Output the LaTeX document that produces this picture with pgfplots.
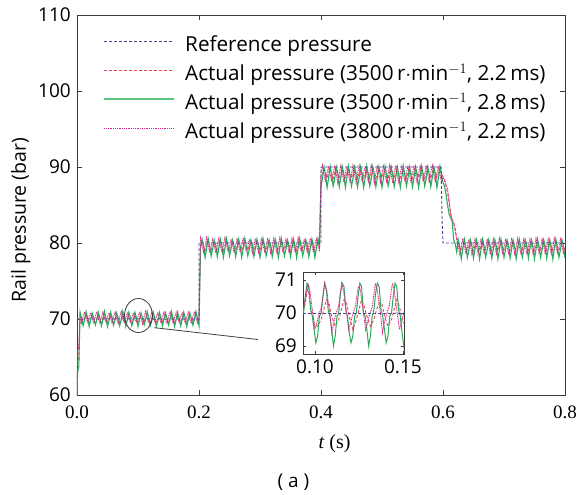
\documentclass[border=0pt]{standalone}
\usepackage{fontspec}
\setmainfont{Open Sans}
\newfontfamily\lserif{Liberation Serif}
\usepackage{pgfplots}
\pgfplotsset{compat=1.18}
\usepackage{pgfplotstable}

\definecolor{refc}{RGB}{70,70,150}
\definecolor{redc}{RGB}{235,70,85}
\definecolor{grnc}{RGB}{40,172,92}
\definecolor{grnl}{RGB}{90,195,130}
\definecolor{pnkc}{RGB}{225,30,135}
\definecolor{axc}{RGB}{60,60,60}

\pgfplotstableread{
t g p r
0.0000 60.0 60.0 60.0
0.0010 63.0 65.8 64.0
0.0030 63.8 66.4 65.0
0.0050 70.9 70.1 70.5
0.0075 70.1 69.5 69.9
0.0100 69.1 70.3 69.6
0.0125 69.9 70.9 70.1
0.0150 71.0 70.1 70.5
0.0175 70.1 69.6 69.9
0.0200 69.0 70.3 69.6
0.0225 69.9 70.8 70.1
0.0250 70.8 70.1 70.4
0.0275 70.1 69.4 69.9
0.0300 69.2 70.3 69.5
0.0325 69.9 71.0 70.1
0.0350 70.9 70.0 70.5
0.0375 70.1 69.5 69.9
0.0400 69.1 70.2 69.6
0.0425 69.9 70.9 70.1
0.0450 71.0 70.1 70.4
0.0475 70.1 69.6 69.9
0.0500 69.0 70.3 69.6
0.0525 69.8 70.8 70.1
0.0550 70.9 70.1 70.5
0.0575 70.2 69.5 69.9
0.0600 69.2 70.3 69.5
0.0625 69.9 70.9 70.1
0.0650 70.8 70.0 70.4
0.0675 70.1 69.4 69.9
0.0700 69.1 70.3 69.6
0.0725 69.9 71.0 70.1
0.0750 71.0 70.1 70.5
0.0775 70.1 69.5 69.9
0.0800 69.0 70.2 69.6
0.0825 69.9 70.9 70.1
0.0850 70.9 70.1 70.4
0.0875 70.1 69.6 69.9
0.0900 69.1 70.3 69.5
0.0925 69.9 70.8 70.1
0.0950 70.9 70.1 70.5
0.0975 70.1 69.5 69.9
0.1000 69.0 70.3 69.6
0.1025 69.9 70.9 70.1
0.1050 70.8 70.0 70.4
0.1075 70.1 69.4 69.9
0.1100 69.2 70.3 69.6
0.1125 69.9 71.0 70.1
0.1150 71.0 70.1 70.5
0.1175 70.1 69.5 69.9
0.1200 69.1 70.2 69.5
0.1225 69.9 70.9 70.1
0.1250 70.9 70.1 70.4
0.1275 70.1 69.6 69.9
0.1300 69.0 70.3 69.6
0.1325 69.8 70.8 70.1
0.1350 70.9 70.1 70.5
0.1375 70.2 69.5 69.9
0.1400 69.1 70.3 69.6
0.1425 69.9 70.9 70.1
0.1450 70.8 70.0 70.4
0.1475 70.1 69.4 69.9
0.1500 69.2 70.3 69.5
0.1525 69.9 71.0 70.1
0.1550 71.0 70.1 70.5
0.1575 70.1 69.5 69.9
0.1600 69.0 70.2 69.6
0.1625 69.9 70.9 70.1
0.1650 70.9 70.1 70.4
0.1675 70.1 69.6 69.9
0.1700 69.1 70.3 69.6
0.1725 69.9 70.8 70.1
0.1750 70.9 70.1 70.5
0.1775 70.1 69.5 69.9
0.1800 69.0 70.3 69.5
0.1825 69.9 70.9 70.1
0.1850 70.8 70.0 70.4
0.1875 70.1 69.4 69.9
0.1900 69.2 70.3 69.6
0.1925 69.9 71.0 70.1
0.1950 71.0 70.1 70.5
0.1975 70.1 69.5 69.9
0.2000 69.1 70.2 69.6
0.2025 79.3 80.6 79.6
0.2050 80.5 79.7 80.3
0.2075 79.6 78.8 79.5
0.2100 78.1 79.6 79.0
0.2125 79.3 80.7 79.6
0.2150 80.6 79.7 80.3
0.2175 79.6 78.9 79.5
0.2200 78.3 79.5 79.1
0.2225 79.2 80.5 79.6
0.2250 80.4 79.8 80.2
0.2275 79.7 78.7 79.4
0.2300 78.2 79.6 79.0
0.2325 79.3 80.6 79.6
0.2350 80.5 79.7 80.3
0.2375 79.6 78.8 79.5
0.2400 78.1 79.6 79.0
0.2425 79.3 80.7 79.6
0.2450 80.6 79.7 80.3
0.2475 79.6 78.9 79.5
0.2500 78.3 79.5 79.1
0.2525 79.2 80.5 79.6
0.2550 80.4 79.8 80.2
0.2575 79.7 78.7 79.4
0.2600 78.2 79.6 79.0
0.2625 79.3 80.6 79.6
0.2650 80.5 79.7 80.3
0.2675 79.6 78.8 79.5
0.2700 78.1 79.6 79.0
0.2725 79.3 80.7 79.6
0.2750 80.6 79.7 80.3
0.2775 79.6 78.9 79.5
0.2800 78.3 79.5 79.1
0.2825 79.2 80.5 79.6
0.2850 80.4 79.8 80.2
0.2875 79.7 78.7 79.4
0.2900 78.2 79.6 79.0
0.2925 79.3 80.6 79.6
0.2950 80.5 79.7 80.3
0.2975 79.6 78.8 79.5
0.3000 78.1 79.6 79.0
0.3025 79.3 80.7 79.6
0.3050 80.6 79.7 80.3
0.3075 79.6 78.9 79.5
0.3100 78.3 79.5 79.1
0.3125 79.2 80.5 79.6
0.3150 80.4 79.8 80.2
0.3175 79.7 78.7 79.4
0.3200 78.2 79.6 79.0
0.3225 79.3 80.6 79.6
0.3250 80.5 79.7 80.3
0.3275 79.6 78.8 79.5
0.3300 78.1 79.6 79.0
0.3325 79.3 80.7 79.6
0.3350 80.6 79.7 80.3
0.3375 79.6 78.9 79.5
0.3400 78.3 79.5 79.1
0.3425 79.2 80.5 79.6
0.3450 80.4 79.8 80.2
0.3475 79.7 78.7 79.4
0.3500 78.2 79.6 79.0
0.3525 79.3 80.6 79.6
0.3550 80.5 79.7 80.3
0.3575 79.6 78.8 79.5
0.3600 78.1 79.6 79.0
0.3625 79.3 80.7 79.6
0.3650 80.6 79.7 80.3
0.3675 79.6 78.9 79.5
0.3700 78.3 79.5 79.1
0.3725 79.2 80.5 79.6
0.3750 80.4 79.8 80.2
0.3775 79.7 78.7 79.4
0.3800 78.2 79.6 79.0
0.3825 79.3 80.6 79.6
0.3850 80.5 79.7 80.3
0.3875 79.6 78.8 79.5
0.3900 78.1 79.6 79.0
0.3925 79.3 80.7 79.6
0.3950 80.6 79.7 80.3
0.3975 79.6 78.9 79.5
0.4000 87.4 89.2 88.5
0.4025 88.6 90.2 89.2
0.4050 90.0 89.0 90.0
0.4075 88.9 88.0 89.2
0.4100 87.3 89.2 88.6
0.4125 88.6 90.1 89.2
0.4150 90.1 89.0 89.9
0.4175 88.9 88.1 89.2
0.4200 87.5 89.1 88.5
0.4225 88.5 90.2 89.3
0.4250 90.0 89.1 90.0
0.4275 89.0 87.9 89.1
0.4300 87.4 89.2 88.5
0.4325 88.6 90.2 89.2
0.4350 90.0 89.0 90.0
0.4375 88.9 88.0 89.2
0.4400 87.3 89.2 88.6
0.4425 88.6 90.1 89.2
0.4450 90.1 89.0 89.9
0.4475 88.9 88.1 89.2
0.4500 87.5 89.1 88.5
0.4525 88.5 90.2 89.3
0.4550 90.0 89.1 90.0
0.4575 89.0 87.9 89.1
0.4600 87.4 89.2 88.5
0.4625 88.6 90.2 89.2
0.4650 90.0 89.0 90.0
0.4675 88.9 88.0 89.2
0.4700 87.3 89.2 88.6
0.4725 88.6 90.1 89.2
0.4750 90.1 89.0 89.9
0.4775 88.9 88.1 89.2
0.4800 87.5 89.1 88.5
0.4825 88.5 90.2 89.3
0.4850 90.0 89.1 90.0
0.4875 89.0 87.9 89.1
0.4900 87.4 89.2 88.5
0.4925 88.6 90.2 89.2
0.4950 90.0 89.0 90.0
0.4975 88.9 88.0 89.2
0.5000 87.3 89.2 88.6
0.5025 88.6 90.1 89.2
0.5050 90.1 89.0 89.9
0.5075 88.9 88.1 89.2
0.5100 87.5 89.1 88.5
0.5125 88.5 90.2 89.3
0.5150 90.0 89.1 90.0
0.5175 89.0 87.9 89.1
0.5200 87.4 89.2 88.5
0.5225 88.6 90.2 89.2
0.5250 90.0 89.0 90.0
0.5275 88.9 88.0 89.2
0.5300 87.3 89.2 88.6
0.5325 88.6 90.1 89.2
0.5350 90.1 89.0 89.9
0.5375 88.9 88.1 89.2
0.5400 87.5 89.1 88.5
0.5425 88.5 90.2 89.3
0.5450 90.0 89.1 90.0
0.5475 89.0 87.9 89.1
0.5500 87.4 89.2 88.5
0.5525 88.6 90.2 89.2
0.5550 90.0 89.0 90.0
0.5575 88.9 88.0 89.2
0.5600 87.3 89.2 88.6
0.5625 88.6 90.1 89.2
0.5650 90.1 89.0 89.9
0.5675 88.9 88.1 89.2
0.5700 87.5 89.1 88.5
0.5725 88.5 90.2 89.3
0.5750 90.0 89.1 90.0
0.5775 89.0 87.9 89.1
0.5800 87.4 89.2 88.5
0.5825 88.6 90.2 89.2
0.5850 90.0 89.0 90.0
0.5875 88.9 88.0 89.2
0.5900 87.3 89.2 88.6
0.5925 88.6 90.1 89.2
0.5950 90.1 89.0 89.9
0.5975 88.9 88.1 89.2
0.6000 88.0 88.6 88.7
0.6025 87.4 88.3 88.5
0.6050 86.4 87.6 87.5
0.6075 85.0 87.1 86.6
0.6100 83.8 85.6 85.3
0.6125 83.3 84.0 83.8
0.6150 82.9 83.1 83.0
0.6175 80.4 82.6 82.7
0.6200 79.9 81.6 81.9
0.6225 78.8 80.5 80.6
0.6250 80.4 79.6 80.3
0.6275 79.5 78.6 79.4
0.6300 77.9 79.5 79.0
0.6325 79.2 80.6 79.6
0.6350 80.5 79.6 80.2
0.6375 79.5 78.7 79.4
0.6400 78.1 79.4 79.1
0.6425 79.1 80.5 79.5
0.6450 80.4 79.7 80.3
0.6475 79.6 78.5 79.3
0.6500 78.0 79.5 79.0
0.6525 79.2 80.5 79.6
0.6550 80.4 79.6 80.3
0.6575 79.5 78.6 79.4
0.6600 77.9 79.5 79.0
0.6625 79.2 80.6 79.6
0.6650 80.5 79.6 80.2
0.6675 79.5 78.7 79.4
0.6700 78.1 79.4 79.1
0.6725 79.1 80.5 79.5
0.6750 80.4 79.7 80.3
0.6775 79.6 78.5 79.3
0.6800 78.0 79.5 79.0
0.6825 79.2 80.5 79.6
0.6850 80.4 79.6 80.3
0.6875 79.5 78.6 79.4
0.6900 77.9 79.5 79.0
0.6925 79.2 80.6 79.6
0.6950 80.5 79.6 80.2
0.6975 79.5 78.7 79.4
0.7000 78.1 79.4 79.1
0.7025 79.1 80.5 79.5
0.7050 80.4 79.7 80.3
0.7075 79.6 78.5 79.3
0.7100 78.0 79.5 79.0
0.7125 79.2 80.5 79.6
0.7150 80.4 79.6 80.3
0.7175 79.5 78.6 79.4
0.7200 77.9 79.5 79.0
0.7225 79.2 80.6 79.6
0.7250 80.5 79.6 80.2
0.7275 79.5 78.7 79.4
0.7300 78.1 79.4 79.1
0.7325 79.1 80.5 79.5
0.7350 80.4 79.7 80.3
0.7375 79.6 78.5 79.3
0.7400 78.0 79.5 79.0
0.7425 79.2 80.5 79.6
0.7450 80.4 79.6 80.3
0.7475 79.5 78.6 79.4
0.7500 77.9 79.5 79.0
0.7525 79.2 80.6 79.6
0.7550 80.5 79.6 80.2
0.7575 79.5 78.7 79.4
0.7600 78.1 79.4 79.1
0.7625 79.1 80.5 79.5
0.7650 80.4 79.7 80.3
0.7675 79.6 78.5 79.3
0.7700 78.0 79.5 79.0
0.7725 79.2 80.5 79.6
0.7750 80.4 79.6 80.3
0.7775 79.5 78.6 79.4
0.7800 77.9 79.5 79.0
0.7825 79.2 80.6 79.6
0.7850 80.5 79.6 80.2
0.7875 79.5 78.7 79.4
0.7900 78.1 79.4 79.1
0.7925 79.1 80.5 79.5
0.7950 80.4 79.7 80.3
0.7975 79.6 78.5 79.3
0.8000 78.0 79.5 79.0
}\maindata

\pgfplotstableread{
t g
0.0925 69.9
0.0935 70.0
0.0945 70.5
0.0955 70.9
0.0965 70.8
0.0975 70.1
0.0985 69.9
0.0995 69.5
0.1005 69.1
0.1015 69.3
0.1025 69.9
0.1035 70.0
0.1045 70.5
0.1055 70.9
0.1065 70.7
0.1075 70.1
0.1085 69.9
0.1095 69.5
0.1105 69.0
0.1115 69.3
0.1125 69.9
0.1135 70.0
0.1145 70.6
0.1155 70.9
0.1165 70.8
0.1175 70.1
0.1185 69.9
0.1195 69.4
0.1205 69.1
0.1215 69.3
0.1225 69.9
0.1235 70.0
0.1245 70.5
0.1255 70.9
0.1265 70.8
0.1275 70.0
0.1285 69.9
0.1295 69.5
0.1305 69.0
0.1315 69.3
0.1325 69.9
0.1335 70.1
0.1345 70.6
0.1355 70.9
0.1365 70.8
0.1375 70.1
0.1385 69.9
0.1395 69.5
0.1405 69.1
0.1415 69.3
0.1425 69.9
0.1435 70.0
0.1445 70.5
0.1455 70.9
0.1465 70.8
0.1475 70.1
0.1485 69.9
0.1495 69.4
0.1505 69.0
0.1515 69.3
}\insetg

\pgfplotstableread{
t p
0.0925 70.0
0.0938 70.2
0.0950 70.6
0.0960 70.9
0.0970 70.7
0.0980 70.3
0.0990 69.9
0.1000 69.5
0.1010 69.7
0.1025 70.0
0.1038 70.2
0.1048 70.6
0.1056 70.9
0.1066 70.7
0.1076 70.3
0.1086 69.9
0.1096 69.4
0.1106 69.7
0.1121 70.0
0.1134 70.2
0.1144 70.6
0.1152 70.9
0.1162 70.7
0.1172 70.3
0.1182 69.9
0.1192 69.5
0.1202 69.7
0.1217 70.0
0.1230 70.2
0.1240 70.6
0.1248 70.8
0.1258 70.7
0.1268 70.3
0.1278 69.9
0.1288 69.5
0.1298 69.7
0.1313 70.0
0.1326 70.2
0.1336 70.6
0.1344 70.9
0.1354 70.7
0.1364 70.3
0.1374 69.9
0.1384 69.4
0.1394 69.7
0.1409 70.0
0.1422 70.2
0.1432 70.6
0.1440 70.9
0.1450 70.7
0.1460 70.3
0.1470 69.9
0.1480 69.5
0.1490 69.7
0.1505 70.0
0.1518 70.2
}\insetp

\pgfplotstableread{
t r
0.0925 69.9
0.0945 70.3
0.0960 70.8
0.0975 70.2
0.0995 69.7
0.1015 69.6
0.1035 69.8
0.1050 70.1
0.1065 70.4
0.1080 70.3
0.1095 69.9
0.1115 69.6
0.1135 69.8
0.1150 70.1
0.1165 70.4
0.1180 70.3
0.1195 69.9
0.1215 69.5
0.1235 69.8
0.1250 70.1
0.1265 70.4
0.1280 70.2
0.1295 69.9
0.1315 69.6
0.1335 69.8
0.1350 70.1
0.1365 70.3
0.1380 70.3
0.1395 69.9
0.1415 69.6
0.1435 69.8
0.1450 70.1
0.1465 70.4
0.1480 70.2
0.1495 69.8
0.1515 69.6
}\insetr

\begin{document}
\fontsize{18}{21}\selectfont
\begin{tikzpicture}
\begin{axis}[
  name=main,
  at={(0pt,0pt)}, anchor=south west,
  scale only axis, width=488pt, height=380pt,
  xmin=0, xmax=0.8, ymin=60, ymax=110,
  xtick={0,0.2,0.4,0.6,0.8},
  xticklabels={0.0,0.2,0.4,0.6,0.8},
  ytick={60,70,80,90,100,110},
  yticklabels={60,70,80,90,100,110},
  xticklabel style={font=\lserif\fontsize{19}{20}\selectfont, yshift=-5pt},
  yticklabel style={font=\fontsize{19}{21}\selectfont},
  tick align=inside, major tick length=5pt,
  axis line style={draw=axc, line width=0.8pt},
  every tick/.style={draw=axc, line width=0.8pt},
  xlabel={{\lserif\itshape t} {\lserif (s)}},
  xlabel style={font=\fontsize{20}{22}\selectfont, at={(axis description cs:0.528,-0.1276)}, anchor=center},
  ylabel={Rail pressure (bar)},
  ylabel style={font=\fontsize{19.5}{21}\selectfont, at={(axis description cs:-0.115,0.46)}, anchor=center},
  legend cell align=left,
  legend style={at={(axis description cs:0.0533,0.9437)}, anchor=north west,
    draw=none, fill=none, inner sep=0pt, row sep=9pt, column sep=10pt,
    font=\fontsize{20.7}{23}\selectfont,
    nodes={inner sep=0pt, text height=15pt, text depth=5pt}},
]
\addlegendimage{legend image code/.code={\draw[draw=refc, line width=0.9pt, dash pattern=on 3pt off 2pt] (0pt,0.3em) -- (70pt,0.3em);}}
\addlegendentry{Reference pressure}
\addlegendimage{legend image code/.code={\draw[draw=redc, line width=0.9pt, dash pattern=on 3pt off 2pt] (0pt,0.3em) -- (70pt,0.3em);}}
\addlegendentry{Actual pressure (3500\,r$\cdot$min$^{-1}$, 2.2\,ms)}
\addlegendimage{legend image code/.code={\draw[draw=grnl, line width=2pt] (0pt,0.3em) -- (70pt,0.3em);}}
\addlegendentry{Actual pressure (3500\,r$\cdot$min$^{-1}$, 2.8\,ms)}
\addlegendimage{legend image code/.code={\draw[draw=pnkc, line width=0.9pt, dash pattern=on 1pt off 0.8pt] (0pt,0.3em) -- (70pt,0.3em);}}
\addlegendentry{Actual pressure (3800\,r$\cdot$min$^{-1}$, 2.2\,ms)}
\addplot[draw=redc, line width=0.9pt, dash pattern=on 3pt off 2pt, forget plot] table[x=t,y=r]{\maindata};
\addplot[draw=grnc, line width=1.1pt, forget plot] table[x=t,y=g]{\maindata};
\addplot[draw=pnkc, line width=0.9pt, dash pattern=on 1pt off 0.8pt, forget plot] table[x=t,y=p]{\maindata};
\addplot[draw=refc, line width=0.9pt, dash pattern=on 3pt off 2pt, forget plot] coordinates {
 (0,70) (0.2,70) (0.2,80) (0.4,80) (0.4,90) (0.597,90) (0.5985,83) (0.6,80) (0.8,80)};
\draw[draw=axc, line width=0.8pt] (axis cs:0.1008,70.46) ellipse [x radius=14pt, y radius=17pt];
\draw[draw=axc, line width=0.8pt] (axis cs:0.1267,68.86) -- (axis cs:0.2967,67.30);
\end{axis}
\begin{axis}[
  at={(226pt,41pt)}, anchor=south west,
  scale only axis, width=101pt, height=82pt,
  xmin=0.0932, xmax=0.1506, ymin=68.76, ymax=71.24,
  xtick={0.10,0.15}, xticklabels={0.10,0.15},
  ytick={69,70,71}, yticklabels={69,70,71},
  ticklabel style={font=\fontsize{19}{21}\selectfont},
  axis background/.style={fill=white},
  tick align=inside, major tick length=3pt,
  axis line style={draw=axc, line width=0.8pt},
  every tick/.style={draw=axc, line width=0.6pt},
]
\addplot[draw=redc, line width=0.9pt, dash pattern=on 3pt off 2pt] table[x=t,y=r]{\insetr};
\addplot[draw=grnc, line width=1.0pt] table[x=t,y=g]{\insetg};
\addplot[draw=pnkc, line width=0.9pt, dash pattern=on 1pt off 0.8pt] table[x=t,y=p]{\insetp};
\addplot[draw=refc, line width=0.9pt, dash pattern=on 3pt off 2pt] coordinates {(0.0932,70) (0.1506,70)};
\end{axis}
\node[font=\fontsize{19}{21}\selectfont, inner sep=0pt] at ([shift={(216.5pt,-87pt)}]main.south west) {( a )};
\pgfresetboundingbox
\path[use as bounding box] (-77pt,-100pt) rectangle (502pt,395pt);
\end{tikzpicture}
\end{document}
